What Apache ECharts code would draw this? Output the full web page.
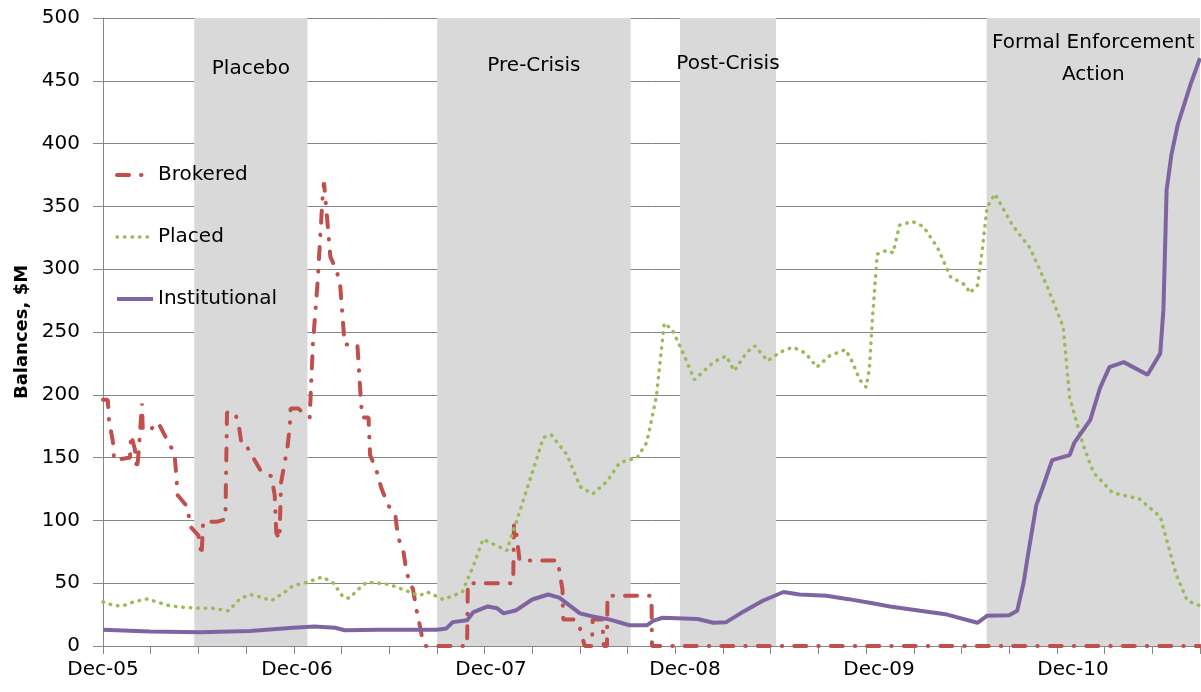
<!DOCTYPE html>
<html>
<head>
<meta charset="utf-8">
<title>Balances, $M</title>
<script src="https://cdn.jsdelivr.net/npm/echarts@6/dist/echarts.min.js"></script>
<style>
  html, body { margin: 0; padding: 0; background: #fff; }
  #chart { width: 1201px; height: 692px; }
</style>
</head>
<body>
<div id="chart"></div>
<script>
// x values are months counted from Dec-05 (0 = Dec-05)
const xLabels = ['Dec-05', 'Dec-06', 'Dec-07', 'Dec-08', 'Dec-09', 'Dec-10'];

const regionNames = ['Placebo', 'Pre-Crisis', 'Post-Crisis', 'Formal Enforcement\nAction'];
const regionStart = [5.74, 21.02, 36.29, 55.58];
const regionEnd = [12.86, 33.19, 42.33, 69];

const brokeredX = [0, 0.3, 0.38, 0.63, 0.7, 1.7, 1.76, 2.0, 2.14, 2.26, 2.45, 2.5, 2.96, 3.46, 4.0,
  4.5, 4.6, 4.7, 5.3, 5.5, 6.0, 6.2, 6.3, 7.2, 7.7, 7.8, 8.3, 8.55, 8.7, 8.9, 9.4, 9.9, 10.6,
  10.8, 10.9, 11.1, 11.2, 11.6, 11.75, 11.8, 12.3, 12.8, 13.0, 13.2, 13.5, 13.8, 13.9, 14.1,
  14.3, 14.65, 14.9, 15.2, 16.0, 16.2, 16.3, 16.7, 16.8, 17.2, 17.5, 17.9, 18.4, 18.55, 18.9,
  19.1, 19.5, 19.7, 19.9, 20.1, 20.3, 22.9, 22.95, 25.0, 25.8, 25.85, 26.0, 26.2, 28.6, 28.9,
  28.95, 29.7, 30.0, 30.3, 30.75, 30.8, 31.4, 31.5, 31.7, 31.73, 34.5, 34.53, 69];
const brokeredY = [196, 196, 180, 162, 148, 150, 168, 157, 140, 157, 193, 172, 172, 178, 165,
  153, 137, 120, 111, 95, 88, 72, 99, 99, 101, 186, 186, 175, 162, 162, 151, 140, 135,
  120, 90, 85, 130, 158, 175, 189, 189, 183, 182, 240, 290, 355, 369, 340,
  310, 300, 290, 240, 240, 200, 182, 182, 152, 140, 126, 113, 103, 87, 75,
  58, 45, 30, 18, 5, 0, 0, 50, 50, 50, 97, 90, 68, 68, 45,
  21, 21, 14, 0, 0, 21, 21, 0, 0, 40, 40, 0, 0];

const placedX = [0, 0.75, 1.26, 1.9, 2.8, 3.4, 4.2, 5.3, 6.9, 7.9, 8.6, 9.25, 9.9, 10.6, 11.6,
  11.95, 12.8, 13.8, 14.5, 15.1, 15.5, 16.0, 16.6, 18.0, 19.3, 19.9, 20.4, 21.4, 22.6, 23.3,
  23.9, 25.4, 26.0, 26.9, 27.7, 28.2, 29.2, 30.0, 30.8, 31.7, 32.5, 33.6, 34.2, 34.8, 35.3,
  35.8, 36.5, 37.2, 38.4, 39.2, 39.7, 40.5, 41.0, 41.8, 42.6, 43.4, 44.2, 44.9, 45.7, 46.7,
  47.1, 47.6, 48.0, 48.2, 48.4, 48.7, 49.3, 49.7, 50.1, 50.9, 51.6, 52.5, 53.3, 54.3, 54.5,
  55.0, 55.3, 55.6, 56.1, 57.2, 58.3, 59.4, 60.4, 60.8, 61.6, 62.3, 63.5, 65.2, 66.5, 67.5,
  68.2, 69];
const placedY = [35, 32, 32, 35, 37.5, 35, 32, 30.5, 30, 28, 37.5, 41, 39, 36, 44.5,
  48, 50.5, 55, 50, 39, 38, 44.5, 51, 49, 43, 40, 43, 37, 43, 64,
  85, 76, 99, 134, 166, 168, 152, 127, 121, 131, 146, 150, 162, 198, 257,
  252, 233, 212, 226, 231, 219, 234, 239, 227, 234, 238, 233, 222, 231, 236,
  227, 212, 206, 220, 261, 312, 315, 313, 335, 338, 334, 317, 294, 287, 281,
  287, 315, 349, 360, 335, 317, 286, 254, 198, 162, 138, 122, 117, 103, 57,
  36, 32];

const institutionalX = [0, 2.96, 6.1, 9.25, 11.95, 13.3, 14.6, 15.2, 17.4, 21.0, 21.6, 22.0,
  22.9, 23.3, 24.2, 24.8, 25.2, 26.0, 27.0, 28.0, 28.7, 30.0, 30.8, 31.9, 33.1, 34.2, 34.6,
  35.2, 37.4, 38.4, 39.2, 40.1, 41.5, 42.8, 43.8, 45.5, 46.8, 48.4, 49.5, 51.4, 53.1, 55.0,
  55.6, 57.0, 57.5, 57.9, 58.2, 58.7, 59.1, 59.7, 60.8, 61.1, 62.1, 62.7, 63.3, 64.2, 65.7,
  66.5, 66.7, 66.9, 67.2, 67.6, 68.4, 69];
const institutionalY = [13, 11.5, 11, 12, 14.5, 15.5, 14.5, 12.5, 13, 13, 14, 19,
  20.5, 27, 31.5, 30, 26, 28.5, 37, 41, 38.5, 26, 23.5, 21, 16.5, 16.5, 20,
  22.5, 21.5, 18.5, 19, 26, 36, 43, 41, 40, 37.5, 34, 31.5, 28, 25, 18.5,
  24, 24.5, 28, 50, 74, 112, 126, 148, 152, 162, 180, 205, 222, 226, 216,
  233, 268, 363, 391, 415, 447, 468];

const font = 'DejaVu Sans';
const gray = '#868686';
const toPairs = (xs, ys) => xs.map((x, i) => [x, ys[i]]);

// distance of each region label from the top of the plot
const regionLabelDist = [35, 32, 30, 9];

const chart = echarts.init(document.getElementById('chart'));

chart.setOption({
  animation: false,
  grid: { left: 103, right: 1, top: 18, bottom: 46, outerBoundsMode: 'none' },
  legend: {
    data: ['Brokered', 'Placed', 'Institutional'],
    orient: 'vertical',
    left: 110,
    top: 160,
    itemWidth: 36,
    itemHeight: 14,
    itemGap: 42,
    // hide the marker dot, keep only the line sample at full width
    itemStyle: { opacity: 0 },
    lineStyle: { width: 'inherit' },
    textStyle: { fontFamily: font, fontSize: 20, color: '#000' },
  },
  xAxis: [
    {
      type: 'value', min: 0, max: 69, interval: 3,
      axisLine: { show: true, lineStyle: { color: gray } },
      axisTick: { show: true, length: 8, lineStyle: { color: gray } },
      axisLabel: { show: false },
      splitLine: { show: false },
    },
    {
      // label axis: the year labels sit a little wider apart than the quarterly ticks
      type: 'value', position: 'bottom', min: 0, max: 67.86, interval: 12,
      axisLine: { show: false },
      axisTick: { show: false },
      splitLine: { show: false },
      axisLabel: {
        margin: 14, fontFamily: font, fontSize: 20, color: '#000',
        formatter: (v) => xLabels[Math.round(v / 12)] || '',
      },
    },
  ],
  yAxis: {
    type: 'value', min: 0, max: 500, interval: 50,
    name: 'Balances, $M',
    nameLocation: 'middle',
    nameGap: 70,
    nameTextStyle: { fontFamily: font, fontSize: 18, fontWeight: 'bold', color: '#000' },
    axisLine: { show: true, lineStyle: { color: gray } },
    axisTick: { show: true, length: 10, lineStyle: { color: gray } },
    axisLabel: { margin: 23, fontFamily: font, fontSize: 20, color: '#000' },
    splitLine: { show: true, lineStyle: { color: gray, width: 1 } },
  },
  series: [
    {
      name: 'Brokered',
      type: 'line',
      data: toPairs(brokeredX, brokeredY),
      symbol: 'none',
      itemStyle: { color: '#c0504d' },
      lineStyle: { color: '#c0504d', width: 4, type: [12, 12, 0.5, 12], cap: 'round' },
      markArea: {
        silent: true,
        itemStyle: { color: '#d9d9d9' },
        data: regionNames.map((name, i) => [
          {
            name,
            xAxis: regionStart[i],
            label: {
              show: true, position: 'insideTop', distance: regionLabelDist[i],
              fontFamily: font, fontSize: 20, lineHeight: 32, color: '#000', align: 'center',
            },
          },
          { xAxis: regionEnd[i] },
        ]),
      },
    },
    {
      name: 'Placed',
      type: 'line',
      data: toPairs(placedX, placedY),
      symbol: 'none',
      itemStyle: { color: '#9bbb59' },
      lineStyle: { color: '#9bbb59', width: 3.5, type: [0.5, 7], cap: 'round' },
    },
    {
      name: 'Institutional',
      type: 'line',
      data: toPairs(institutionalX, institutionalY),
      symbol: 'none',
      itemStyle: { color: '#8064a2' },
      lineStyle: { color: '#8064a2', width: 4 },
    },
  ],
});
</script>
</body>
</html>
